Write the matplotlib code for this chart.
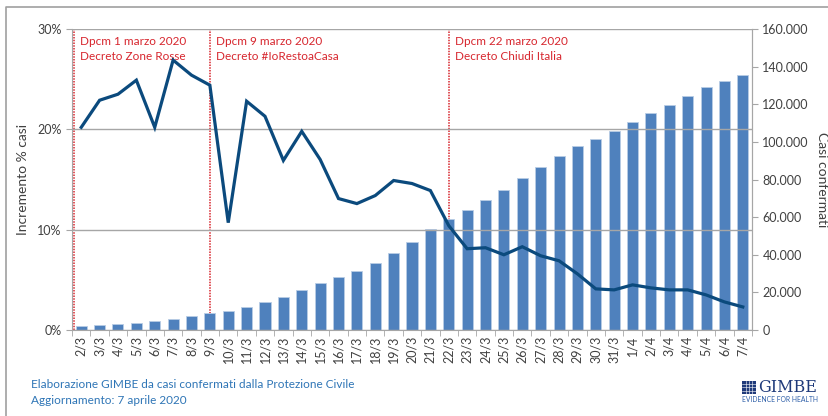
import matplotlib.pyplot as plt
from matplotlib.lines import Line2D
from matplotlib.patches import Rectangle
from matplotlib.ticker import FuncFormatter

plt.rcParams['font.family'] = ['Lato', 'DejaVu Sans']

giorni = ['2/3', '3/3', '4/3', '5/3', '6/3', '7/3', '8/3', '9/3', '10/3', '11/3',
          '12/3', '13/3', '14/3', '15/3', '16/3', '17/3', '18/3', '19/3', '20/3',
          '21/3', '22/3', '23/3', '24/3', '25/3', '26/3', '27/3', '28/3', '29/3',
          '30/3', '31/3', '1/4', '2/4', '3/4', '4/4', '5/4', '6/4', '7/4']
casi = [2036, 2502, 3089, 3858, 4636, 5883, 7375, 9172, 10149, 12462,
        15113, 17660, 21157, 24747, 27980, 31506, 35713, 41035, 47021,
        53578, 59138, 63927, 69176, 74386, 80539, 86498, 92472, 97689,
        101739, 105792, 110574, 115242, 119827, 124632, 128948, 132547, 135586]
incremento = [20.2, 22.9, 23.5, 24.9, 20.2, 26.9, 25.4, 24.4, 10.7, 22.8,
              21.3, 16.9, 19.8, 17.0, 13.1, 12.6, 13.4, 14.9, 14.6,
              13.9, 10.4, 8.1, 8.2, 7.5, 8.3, 7.4, 6.9, 5.6,
              4.1, 4.0, 4.5, 4.2, 4.0, 4.0, 3.5, 2.8, 2.3]
decreti = [(-0.4, 'Dpcm 1 marzo 2020\nDecreto Zone Rosse'),
           (7, 'Dpcm 9 marzo 2020\nDecreto #IoRestoaCasa'),
           (20, 'Dpcm 22 marzo 2020\nDecreto Chiudi Italia')]

grigio = '#A6A6A6'
rosso = '#D7262E'
testo = '#404040'

fig = plt.figure(figsize=(8.29, 4.16), dpi=100)
ax = fig.add_axes([0.0869, 0.2067, 0.8202, 0.7236])
ax2 = ax.twinx()

x = range(len(giorni))

# asse destro: barre dei casi
ax2.bar(x, casi, width=0.6, color='#4F81BD', edgecolor='#B9CDE5', linewidth=0.6, zorder=3)
ax2.set_ylim(0, 160000)
ax2.set_yticks(range(0, 160001, 20000))
ax2.yaxis.set_major_formatter(FuncFormatter(lambda v, p: f'{int(v):,}'.replace(',', '.')))
ax2.set_ylabel('Casi confermati', rotation=270, labelpad=14, fontsize=10, color=testo)

# linee dei decreti
for pos, etichetta in decreti:
    ax2.axvline(pos, color=rosso, linestyle=(0, (1, 0.8)), linewidth=1.1, zorder=1)
    ax2.text(pos + 0.35, 156500, etichetta, color=rosso, fontsize=8.5,
             va='top', ha='left', linespacing=1.45, zorder=5)

# asse sinistro: incremento %
ax.set_zorder(ax2.get_zorder() + 1)
ax.patch.set_visible(False)
ax.plot(x, incremento, color='#0B4A7D', linewidth=2.3, zorder=4, solid_joinstyle='miter')
ax.set_ylim(0, 30)
ax.set_yticks([0, 10, 20, 30])
ax.yaxis.set_major_formatter(FuncFormatter(lambda v, p: f'{int(v)}%'))
ax.set_ylabel('Incremento % casi', fontsize=10, color=testo, labelpad=6)
ax.grid(axis='y', color=grigio, linewidth=1)
ax.set_xlim(-0.5, len(giorni) - 0.5)
ax.set_xticks(list(x))
ax.set_xticklabels(giorni, rotation=90, fontsize=9, color=testo)
ax.set_xticks([i - 0.5 for i in range(len(giorni) + 1)], minor=True)
ax.tick_params(axis='x', which='major', length=0, pad=4)
ax.tick_params(axis='x', which='minor', length=4, color=grigio)

for a in (ax, ax2):
    a.spines['top'].set_visible(False)
    for s in ('left', 'right', 'bottom'):
        a.spines[s].set_color(grigio)
    a.tick_params(axis='y', labelsize=9, colors=testo, length=4)
    a.tick_params(axis='y', color=grigio)
ax2.spines['left'].set_visible(False)
ax2.spines['bottom'].set_visible(False)

# cornice
fig.add_artist(Line2D([6 / 829, 6 / 829, 1], [0, 1 - 7 / 416, 1 - 7 / 416],
                      transform=fig.transFigure, color='#A0A0A0', linewidth=1.2))

# note in basso
fig.text(31 / 829, 1 - 384 / 416, 'Elaborazione GIMBE da casi confermati dalla Protezione Civile',
         color='#2E75B6', fontsize=8.5, va='center')
fig.text(31 / 829, 1 - 401 / 416, 'Aggiornamento: 7 aprile 2020',
         color='#2E75B6', fontsize=8.5, va='center')

# logo
blu = '#1F3A7A'
fig.add_artist(Rectangle((742 / 829, 1 - 394 / 416), 14 / 829, 13 / 416,
                         transform=fig.transFigure, facecolor=blu, edgecolor='none'))
for k in range(1, 4):
    fig.add_artist(Line2D([(742 + k * 3.5) / 829] * 2, [1 - 394 / 416, 1 - 381 / 416],
                          transform=fig.transFigure, color='white', linewidth=0.4))
    fig.add_artist(Line2D([742 / 829, 756 / 829], [1 - (394 - k * 3.3) / 416] * 2,
                          transform=fig.transFigure, color='white', linewidth=0.4))
fig.text(758 / 829, 1 - 387.5 / 416, 'GIMBE', family='DejaVu Serif', color=blu,
         fontsize=11.5, va='center', ha='left')
fig.text(742 / 829, 1 - 400 / 416, 'EVIDENCE FOR HEALTH', color='#2E5FA8',
         fontsize=4.9, va='center', ha='left')

fig.savefig('out.png', dpi=100)
